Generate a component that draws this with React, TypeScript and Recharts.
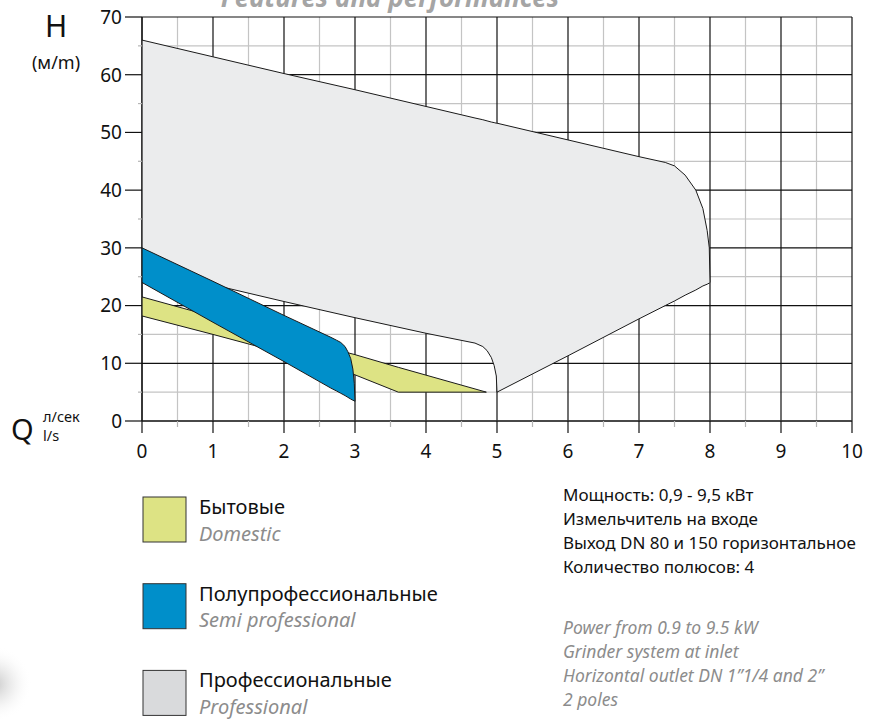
import React from "react";
import {
  ComposedChart,
  Area,
  XAxis,
  YAxis,
  CartesianGrid,
} from "recharts";

// flow Q (l/s) and head H (m)
const Q_PRO = [0, 1, 2, 3, 4, 4.69, 4.8, 4.86, 4.92, 4.96, 4.99, 5, 6, 7, 7.37, 7.5, 7.65, 7.8, 7.9, 7.96, 7.99, 8];
const H_PRO_TOP = [66, 63.1, 60.2, 57.4, 54.5, 52.5, 52.2, 52.0, 51.8, 51.7, 51.6, 51.6, 48.7, 45.8, 44.8, 44.2, 42.6, 40.0, 36.8, 33.0, 30.0, 24];
const H_PRO_BOTTOM = [26.4, 23.6, 20.7, 17.9, 15.2, 13.5, 12.9, 12.2, 11.0, 9.6, 7.8, 5.0, 11.3, 17.7, 20.0, 20.8, 21.8, 22.7, 23.4, 23.7, 23.9, 24];

const Q_SEMI = [0, 1, 2, 2.66, 2.74, 2.8, 2.86, 2.9, 2.94, 2.97, 2.99, 3];
const H_SEMI_TOP = [30, 24.2, 18.3, 14.5, 14.0, 13.6, 12.9, 12.0, 10.8, 9.0, 6.5, 3.4];
const H_SEMI_BOTTOM = [24, 17.1, 10.3, 5.7, 5.2, 4.8, 4.4, 4.1, 3.8, 3.6, 3.5, 3.4];

const Q_DOM = [0, 1, 2, 3, 3.61, 4.85];
const H_DOM_TOP = [21.5, 18.1, 14.7, 11.5, 9.3, 5.0];
const H_DOM_BOTTOM = [18.2, 15.0, 11.7, 8.0, 5.0, 5.0];

const X_MAJOR = [0, 1, 2, 3, 4, 5, 6, 7, 8, 9, 10];
const X_MINOR = [0.5, 1.5, 2.5, 3.5, 4.5, 5.5, 6.5, 7.5, 8.5, 9.5];
const Y_MAJOR = [0, 10, 20, 30, 40, 50, 60, 70];
const Y_MINOR = [5, 15, 25, 35, 45, 55, 65];

const LEGEND = [
  { ru: "Бытовые", en: "Domestic", color: "#dde384" },
  { ru: "Полупрофессиональные", en: "Semi professional", color: "#008fca" },
  { ru: "Профессиональные", en: "Professional", color: "#d9dadc" },
];

const NOTES_RU = [
  "Мощность: 0,9 - 9,5 кВт",
  "Измельчитель на входе",
  "Выход DN 80 и 150 горизонтальное",
  "Количество полюсов: 4",
];
const NOTES_EN = [
  "Power from 0.9 to 9.5 kW",
  "Grinder system at inlet",
  "Horizontal outlet DN 1\u201d1/4 and 2\u201d",
  "2 poles",
];

const FONT = "'Noto Sans', 'Open Sans', sans-serif";

const toRows = (q: number[], lo: number[], hi: number[]) =>
  q.map((v, i) => ({ q: v, range: [lo[i], hi[i]] }));

const proData = toRows(Q_PRO, H_PRO_BOTTOM, H_PRO_TOP);
const semiData = toRows(Q_SEMI, H_SEMI_BOTTOM, H_SEMI_TOP);
const domData = toRows(Q_DOM, H_DOM_BOTTOM, H_DOM_TOP);

const YTick = ({ x, y, payload }: any) => {
  const major = payload.value % 10 === 0;
  return (
    <g>
      <line
        x1={x - (major ? 17 : 4)}
        x2={x}
        y1={y}
        y2={y}
        stroke={major ? "#111" : "#b5b5b5"}
        strokeWidth={1.2}
      />
      {major && (
        <text x={x - 20} y={y} dy="0.36em" textAnchor="end" fontSize={19} fill="#111" fontFamily={FONT}>
          {payload.value}
        </text>
      )}
    </g>
  );
};

const XTick = ({ x, y, payload }: any) => {
  const major = Number.isInteger(payload.value);
  return (
    <g>
      <line
        x1={x}
        x2={x}
        y1={y}
        y2={y + (major ? 12 : 6)}
        stroke={major ? "#111" : "#b5b5b5"}
        strokeWidth={1.2}
      />
      {major && (
        <text x={x} y={y + 30} dy="0.36em" textAnchor="middle" fontSize={19} fill="#111" fontFamily={FONT}>
          {payload.value}
        </text>
      )}
    </g>
  );
};

export default function App() {
  return (
    <div
      style={{
        position: "absolute",
        left: 0,
        top: 0,
        width: 875,
        height: 719,
        overflow: "hidden",
        background: "#fff",
      }}
    >
      <div style={{ position: "absolute", left: 0, top: 0 }}>
        <ComposedChart
          width={875}
          height={470}
          margin={{ top: 17, right: 23, left: 102, bottom: 9 }}
        >
          <CartesianGrid
            verticalValues={X_MINOR}
            horizontalValues={Y_MINOR}
            stroke="#c4c4c4"
            strokeWidth={1.2}
          />
          <CartesianGrid
            verticalValues={X_MAJOR}
            horizontalValues={Y_MAJOR}
            stroke="#111"
            strokeWidth={1.2}
          />
          <XAxis
            type="number"
            dataKey="q"
            domain={[0, 10]}
            ticks={[...X_MAJOR, ...X_MINOR].sort((a, b) => a - b)}
            interval={0}
            height={40}
            tickSize={0}
            tickMargin={0}
            tickLine={false}
            tick={<XTick />}
            axisLine={{ stroke: "#333", strokeWidth: 1.5 }}
            allowDataOverflow
          />
          <YAxis
            type="number"
            domain={[0, 70]}
            ticks={[...Y_MAJOR, ...Y_MINOR].sort((a, b) => a - b)}
            interval={0}
            width={40}
            tickSize={0}
            tickMargin={0}
            tickLine={false}
            tick={<YTick />}
            axisLine={{ stroke: "#111", strokeWidth: 1.2 }}
            allowDataOverflow
          />
          <Area
            data={proData}
            dataKey="range"
            type="linear"
            fill="#ebeced"
            fillOpacity={1}
            stroke="#1a1a1a"
            strokeWidth={1}
            isAnimationActive={false}
            dot={false}
            activeDot={false}
          />
          <Area
            data={domData}
            dataKey="range"
            type="linear"
            fill="#dde384"
            fillOpacity={1}
            stroke="#1a1a1a"
            strokeWidth={1}
            isAnimationActive={false}
            dot={false}
            activeDot={false}
          />
          <Area
            data={semiData}
            dataKey="range"
            type="linear"
            fill="#008fca"
            fillOpacity={1}
            stroke="#1a1a1a"
            strokeWidth={1}
            isAnimationActive={false}
            dot={false}
            activeDot={false}
          />
        </ComposedChart>
      </div>

      <svg
        width={875}
        height={719}
        style={{ position: "absolute", left: 0, top: 0, pointerEvents: "none" }}
        fontFamily={FONT}
      >
        <defs>
          <radialGradient id="blob">
            <stop offset="0%" stopColor="#9a9a9a" stopOpacity={0.55} />
            <stop offset="50%" stopColor="#c0c0c0" stopOpacity={0.25} />
            <stop offset="100%" stopColor="#fff" stopOpacity={0} />
          </radialGradient>
        </defs>
        <circle cx={-6} cy={684} r={38} fill="url(#blob)" />

        <text x={390} y={7} textAnchor="middle" fontSize={26} fontWeight="bold" fontStyle="italic" fill="#a5a5a5">
          Features and performances
        </text>

        <text x={56} y={37} textAnchor="middle" fontSize={30} fill="#111">H</text>
        <text x={56} y={69} textAnchor="middle" fontSize={18} fill="#111">(м/m)</text>
        <text x={11} y={440} fontSize={29} fill="#111">Q</text>
        <text x={43} y={422} fontSize={14.5} fill="#111">л/сек</text>
        <text x={43} y={441} fontSize={14.5} fill="#111">l/s</text>

        {LEGEND.map((item, i) => {
          const top = 497 + i * 86.7;
          return (
            <g key={item.en}>
              <rect x={143} y={top} width={43} height={45} fill={item.color} stroke="#333" strokeWidth={1} />
              <text x={199} y={top + 17} fontSize={20} fill="#111">{item.ru}</text>
              <text x={199} y={top + 43.5} fontSize={20} fontStyle="italic" fill="#8c8c8c">{item.en}</text>
            </g>
          );
        })}

        {NOTES_RU.map((line, i) => (
          <text key={line} x={563} y={501 + i * 24} fontSize={17} fill="#111">{line}</text>
        ))}
        {NOTES_EN.map((line, i) => (
          <text key={line} x={563} y={634 + i * 24} fontSize={17.5} fontStyle="italic" fill="#8c8c8c">{line}</text>
        ))}
      </svg>
    </div>
  );
}
